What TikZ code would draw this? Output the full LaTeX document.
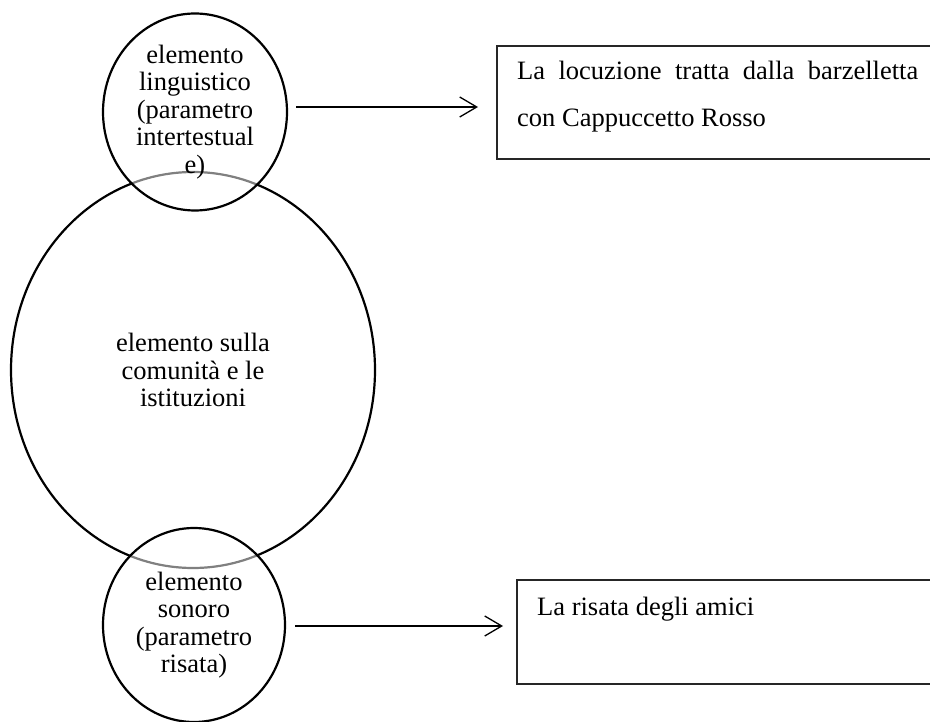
\documentclass[tikz,border=0pt]{standalone}
\usepackage{fontspec}
\setmainfont{Liberation Serif}
\usetikzlibrary{shapes.geometric,arrows.meta}
\begin{document}
\begin{tikzpicture}[x=1pt,y=-1pt,
  bubble/.style={ellipse, draw=black, line width=2.2pt, inner sep=0pt, align=center,
    font=\fontsize{26.5}{27.5}\selectfont},
  veil/.style={fill=white, fill opacity=0.5, text opacity=1},
  quote/.style={draw=black!85, line width=1.6pt, inner sep=0pt, anchor=north west},
  quotetext/.style={inner sep=0pt, anchor=base west, align=left,
    font=\fontsize{26.5}{47}\selectfont},
  link/.style={line width=1.3pt, -{Straight Barb[length=17pt, width=20pt]}}]
\useasboundingbox (0,0) rectangle (930,722);

% central ellipse, then the two small ones laid over it
\node[bubble, minimum width=364pt, minimum height=396pt] (big) at (193,370)
  {elemento sulla\\comunità e le\\istituzioni};
\node[bubble, veil, minimum width=184pt, minimum height=197pt] (top) at (195,112)
  {elemento\\linguistico\\(parametro\\intertestual\\e)};
\node[bubble, veil, minimum width=182pt, minimum height=194pt] (low) at (194,625)
  {elemento\\sonoro\\(parametro\\risata)};

% boxes running off the right edge
\node[quote, minimum width=460pt, minimum height=113pt] (boxA) at (496,45) {};
\node[quote, minimum width=440pt, minimum height=104pt] (boxB) at (516,579) {};
% the base anchor of a two-line node sits on its last line
\node[quotetext] (textA) at (517,127)
  {\makebox[401pt][s]{La locuzione tratta dalla barzelletta}\\con Cappuccetto Rosso};
\node[quotetext] (textB) at (537,615) {La risata degli amici};

% arrows
\draw[link] ([xshift=8pt]top.east |- 0,107) -- ([xshift=-18pt]boxA.west |- 0,107);
\draw[link] ([xshift=9pt]low.east |- 0,626) -- ([xshift=-13pt]boxB.west |- 0,626);
\end{tikzpicture}
\end{document}
